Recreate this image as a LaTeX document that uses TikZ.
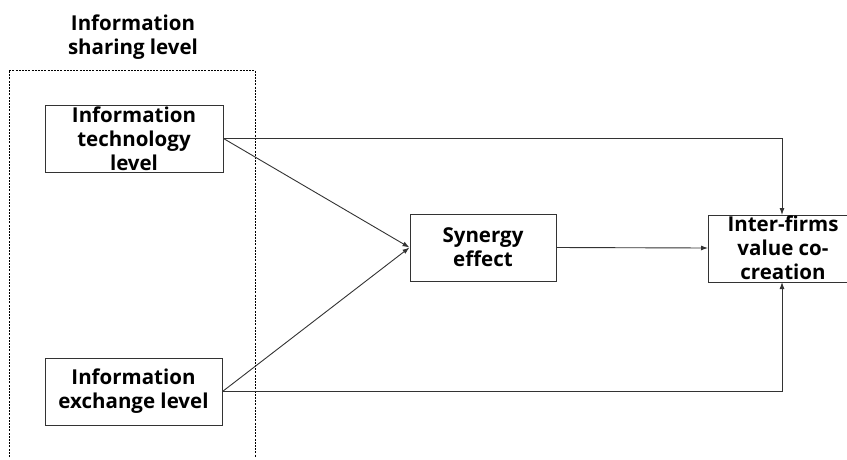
\documentclass[tikz,border=0pt]{standalone}
\usepackage{fontspec}
\setmainfont{Open Sans}
\usetikzlibrary{arrows.meta}
\begin{document}
\begin{tikzpicture}[x=1pt,y=-1pt,
  lbl/.style={font=\bfseries\fontsize{20.5}{24}\selectfont,align=center,inner sep=0pt},
  boxline/.style={draw=black!80,line width=1pt},
  conn/.style={draw=black!80,line width=0.9pt,-{Latex[length=7pt,width=5pt]}}]
\useasboundingbox (0,0) rectangle (847,459);
% dashed group
\draw[line width=0.8pt,dash pattern=on 2pt off 1.2pt] (9,457) -- (9,70) -- (255,70) -- (255,457);
\node[lbl] (title) at (133,37) {Information\\sharing level};
% boxes
\node[boxline,minimum width=178pt,minimum height=67pt,inner sep=0pt] (it) at (134,138.5) {};
\node[lbl] (itt) at (134,139) {Information\\technology\\level};
\node[boxline,minimum width=177pt,minimum height=67pt,inner sep=0pt] (ie) at (133.5,391.5) {};
\node[lbl] (iet) at (ie.center) {Information\\exchange level};
\node[boxline,minimum width=146pt,minimum height=67pt,inner sep=0pt] (sy) at (483,247.5) {};
\node[lbl] (syt) at (sy.center) {Synergy\\effect};
% inter-firms box (open on the right, cut by the border)
\coordinate (vtl) at (847,215);
\coordinate (vbl) at (847,282);
\draw[boxline] (vtl) -- (708,215) -- (708,282) -- (vbl);
\coordinate (vt) at (782,215);
\coordinate (vb) at (782,282);
\coordinate (vl) at (708,248);
\node[lbl] (vc) at (783,248) {Inter-firms\\value co-\\creation};
% connectors
\draw[conn] (it.east) -- (sy.west);
\draw[conn] (ie.east) -- (sy.west);
\draw[conn] (sy.east) -- (vl);
\draw[conn] (it.east) -- (it.east -| vt) -- (vt);
\draw[conn] (ie.east) -- (ie.east -| vb) -- (vb);
\end{tikzpicture}
\end{document}
